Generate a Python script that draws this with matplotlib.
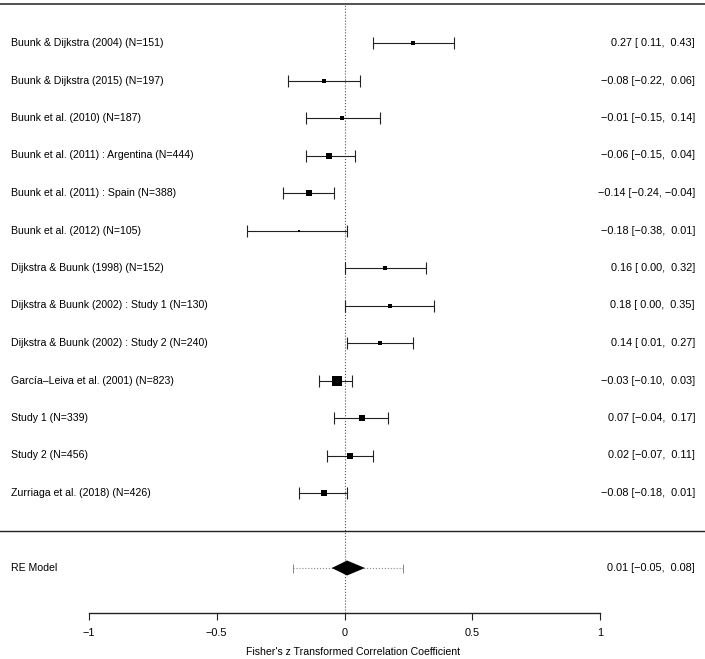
import numpy as np
import matplotlib.pyplot as plt

# Datos del forest plot (z de Fisher)
studies = ["Buunk & Dijkstra (2004)", "Buunk & Dijkstra (2015)", "Buunk et al. (2010)",
           "Buunk et al. (2011) : Argentina", "Buunk et al. (2011) : Spain", "Buunk et al. (2012)",
           "Dijkstra & Buunk (1998)", "Dijkstra & Buunk (2002) : Study 1",
           "Dijkstra & Buunk (2002) : Study 2", "García–Leiva et al. (2001)", "Study 1",
           "Study 2", "Zurriaga et al. (2018)"]
n_sizes = [151, 197, 187, 444, 388, 105, 152, 130, 240, 823, 339, 456, 426]
est = [0.27, -0.08, -0.01, -0.06, -0.14, -0.18, 0.16, 0.18, 0.14, -0.03, 0.07, 0.02, -0.08]
ci_lo = [0.11, -0.22, -0.15, -0.15, -0.24, -0.38, 0.00, 0.00, 0.01, -0.10, -0.04, -0.07, -0.18]
ci_hi = [0.43, 0.06, 0.14, 0.04, -0.04, 0.01, 0.32, 0.35, 0.27, 0.03, 0.17, 0.11, 0.01]

re_est, re_lo, re_hi = 0.01, -0.05, 0.08
pi_lo, pi_hi = -0.20, 0.23

xticks = [-1, -0.5, 0, 0.5, 1]
xtick_labels = ["−1", "−0.5", "0", "0.5", "1"]

plt.rcParams['font.family'] = ['Liberation Sans', 'DejaVu Sans']
FS = 7.8
FS_LAB = 7.6


def fmt(v):
    s = f"{v:.2f}".replace("-", "−")
    return s if v < 0 else " " + s


def annot(e, lo, hi):
    return f"{fmt(e).strip()} [{fmt(lo)}, {fmt(hi)}]"


W, H = 705, 659
fig = plt.figure(figsize=(W / 100, H / 100), dpi=100)
axis_px = 613
ax_bottom = (H - axis_px) / H
ax = fig.add_axes([0, ax_bottom, 1, 1 - ax_bottom])

# escala: pixeles -> coordenadas
x0px, scale = 344.5, 255.5
row_px, row1_px = 37.5, 493
ax.set_xlim(-x0px / scale, (W - x0px) / scale)
y_bottom = 1 + (row1_px - axis_px) / row_px
ax.set_ylim(y_bottom, 1 + row1_px / row_px)

k = len(studies)
rows = np.arange(k, 0, -1)
x_left = (11 - x0px) / scale
x_right = (695 - x0px) / scale
y_top = 1 + (row1_px - 3.5) / row_px

# tamaño de los cuadrados segun precision
prec = np.sqrt(np.array(n_sizes) - 3)
size_px = 3.0 + (prec - prec.min()) / (prec.max() - prec.min()) * 6.5

# lineas horizontales
ax.axhline(y_top, color='#222222', lw=1.1)
ax.axhline(0, color='#222222', lw=1.0)
ax.plot([0, 0], [y_bottom, y_top], ls=':', color='#555555', lw=0.8)

# intervalos de confianza
ax.errorbar(est, rows, xerr=[np.array(est) - np.array(ci_lo), np.array(ci_hi) - np.array(est)],
            fmt='none', ecolor='#222222', elinewidth=0.8, capsize=4.5, capthick=0.8)
for xi, yi, sp in zip(est, rows, size_px):
    ax.plot(xi, yi, marker='s', ms=sp / 1.389, color='black', mew=0, zorder=3)

# etiquetas
for yi, name, n, e, lo, hi in zip(rows, studies, n_sizes, est, ci_lo, ci_hi):
    ax.text(x_left, yi, f"{name} (N={n})", ha='left', va='center', fontsize=FS_LAB)
    ax.text(x_right, yi, annot(e, lo, hi), ha='right', va='center', fontsize=FS)

# modelo RE con intervalo de prediccion
ax.plot([pi_lo, pi_hi], [-1, -1], ls=':', color='#888888', lw=0.8, zorder=2)
ax.vlines([pi_lo, pi_hi], -1.12, -0.88, color='#888888', lw=0.7, zorder=2)
dh = 0.2
ax.fill([re_lo, re_est, re_hi, re_est], [-1, -1 + dh, -1, -1 - dh], color='black', lw=0, zorder=4)
ax.text(x_left, -1, "RE Model", ha='left', va='center', fontsize=FS_LAB)
ax.text(x_right, -1, annot(re_est, re_lo, re_hi), ha='right', va='center', fontsize=FS)

# eje x
for s in ['top', 'left', 'right']:
    ax.spines[s].set_visible(False)
ax.spines['bottom'].set_bounds(-1, 1)
ax.spines['bottom'].set_linewidth(1.0)
ax.spines['bottom'].set_color('#222222')
ax.set_xticks(xticks)
ax.set_xticklabels(xtick_labels, fontsize=FS)
ax.tick_params(axis='x', direction='out', length=5, width=0.8, pad=6, color='#222222')
ax.set_yticks([])
ax.set_xlabel("Fisher's z Transformed Correlation Coefficient", fontsize=FS_LAB, labelpad=6)

fig.savefig("out.png", dpi=100)
